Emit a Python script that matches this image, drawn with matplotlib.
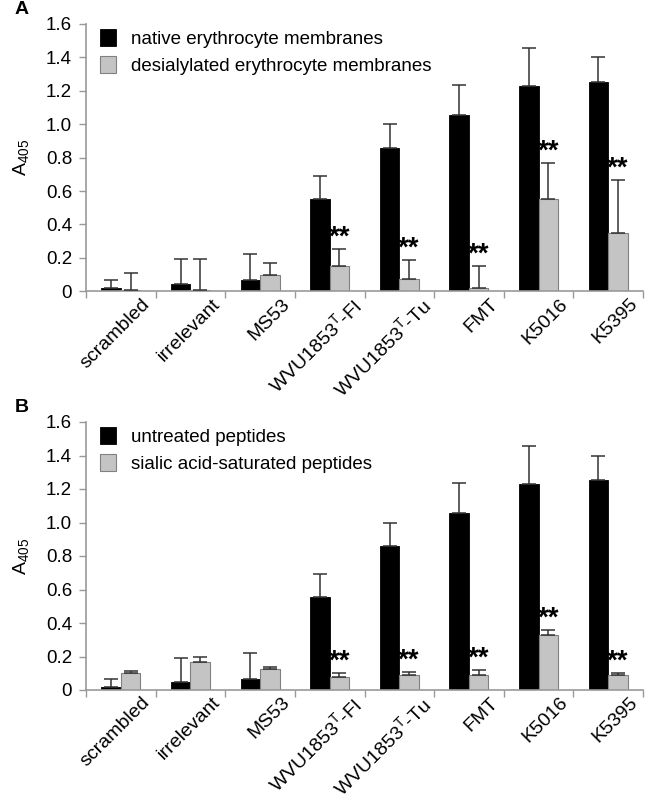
import numpy as np
import matplotlib
matplotlib.use('Agg')
import matplotlib.pyplot as plt
from matplotlib.transforms import ScaledTranslation

plt.rcParams['font.family'] = ['Liberation Sans', 'DejaVu Sans']
plt.rcParams['mathtext.fontset'] = 'custom'
plt.rcParams['mathtext.rm'] = 'Liberation Sans'
plt.rcParams['mathtext.it'] = 'Liberation Sans:italic'

# --- data ---
categories = ['scrambled', 'irrelevant', 'MS53', 'WVU1853$^{\\mathrm{T}}$-Fl',
              'WVU1853$^{\\mathrm{T}}$-Tu', 'FMT', 'K5016', 'K5395']

# panel A
a_native = [0.02, 0.045, 0.065, 0.555, 0.86, 1.055, 1.23, 1.255]
a_native_err = [0.045, 0.145, 0.155, 0.135, 0.14, 0.18, 0.225, 0.145]
a_desial = [0.01, 0.01, 0.095, 0.15, 0.075, 0.02, 0.55, 0.35]
a_desial_err = [0.10, 0.18, 0.075, 0.10, 0.11, 0.13, 0.22, 0.315]
a_signif = [False, False, False, True, True, True, True, True]

# panel B
b_untreated = [0.02, 0.045, 0.065, 0.555, 0.86, 1.055, 1.23, 1.255]
b_untreated_err = [0.045, 0.145, 0.155, 0.135, 0.14, 0.18, 0.225, 0.145]
b_saturated = [0.10, 0.165, 0.125, 0.08, 0.09, 0.09, 0.33, 0.09]
b_saturated_err = [0.015, 0.035, 0.01, 0.02, 0.02, 0.03, 0.03, 0.01]
b_signif = [False, False, False, True, True, True, True, True]

GREY = '#c4c4c4'
AXCOL = '#999999'


def draw_panel(fig, ax, dark, dark_err, light, light_err, signif, labels, letter):
    x = np.arange(len(categories))
    w = 0.28
    ax.bar(x - w / 2, dark, w, color='black', edgecolor='black', linewidth=0.6,
           label=labels[0], zorder=2)
    ax.bar(x + w / 2, light, w, color=GREY, edgecolor='#808080', linewidth=0.8,
           label=labels[1], zorder=2)
    ax.errorbar(x - w / 2, dark, yerr=[np.zeros(len(x)), dark_err], fmt='none',
                ecolor='#333333', elinewidth=1.1, capsize=5, capthick=1.1, zorder=3)
    ax.errorbar(x + w / 2, light, yerr=[np.zeros(len(x)), light_err], fmt='none',
                ecolor='#333333', elinewidth=1.1, capsize=5, capthick=1.1, zorder=3)
    for i, s in enumerate(signif):
        if s:
            ax.text(x[i] + w / 2, light[i] + light_err[i] - 0.01, '**',
                    ha='center', va='bottom', fontsize=20, fontweight='bold')

    ax.set_xlim(-0.5, len(categories) - 0.5)
    ax.set_ylim(0, 1.6)
    ax.set_yticks(np.arange(0, 1.61, 0.2))
    ax.set_yticklabels(['0'] + [f'{v:.1f}' for v in np.arange(0.2, 1.61, 0.2)],
                       fontsize=13.5)
    ax.set_xticks(x)
    ax.set_xticks(np.arange(-0.5, len(categories)), minor=True)
    ax.tick_params(axis='x', which='major', length=0, pad=3)
    ax.tick_params(axis='x', which='minor', length=5, color=AXCOL, width=1)
    ax.tick_params(axis='y', length=5, color=AXCOL, width=1, pad=5)
    ax.set_xticklabels(categories, rotation=45, ha='right', rotation_mode='anchor',
                       fontsize=14)
    # labels in the original sit a bit right of the group centre
    shift = ScaledTranslation(15 / 72, 0, fig.dpi_scale_trans)
    for lab in ax.get_xticklabels():
        lab.set_transform(lab.get_transform() + shift)

    for side in ['top', 'right']:
        ax.spines[side].set_visible(False)
    for side in ['left', 'bottom']:
        ax.spines[side].set_color(AXCOL)
        ax.spines[side].set_linewidth(1.2)

    ax.set_ylabel('A$_{405}$', fontsize=14, labelpad=11)
    ax.legend(loc='upper left', bbox_to_anchor=(-0.005, 1.045), frameon=False,
              fontsize=13.5, handlelength=0.85, handleheight=1.0, handletextpad=0.8,
              labelspacing=0.45)
    ax.text(-0.128, 1.085, letter, transform=ax.transAxes, fontsize=14,
            fontweight='bold', va='top', ha='left')


fig = plt.figure(figsize=(6.5, 8), dpi=100)
ax1 = fig.add_axes([0.1323, 0.636, 0.857, 0.334])
ax2 = fig.add_axes([0.1323, 0.1375, 0.857, 0.335])

draw_panel(fig, ax1, a_native, a_native_err, a_desial, a_desial_err, a_signif,
           ['native erythrocyte membranes', 'desialylated erythrocyte membranes'], 'A')
draw_panel(fig, ax2, b_untreated, b_untreated_err, b_saturated, b_saturated_err, b_signif,
           ['untreated peptides', 'sialic acid-saturated peptides'], 'B')

fig.savefig('out.png', dpi=100)
